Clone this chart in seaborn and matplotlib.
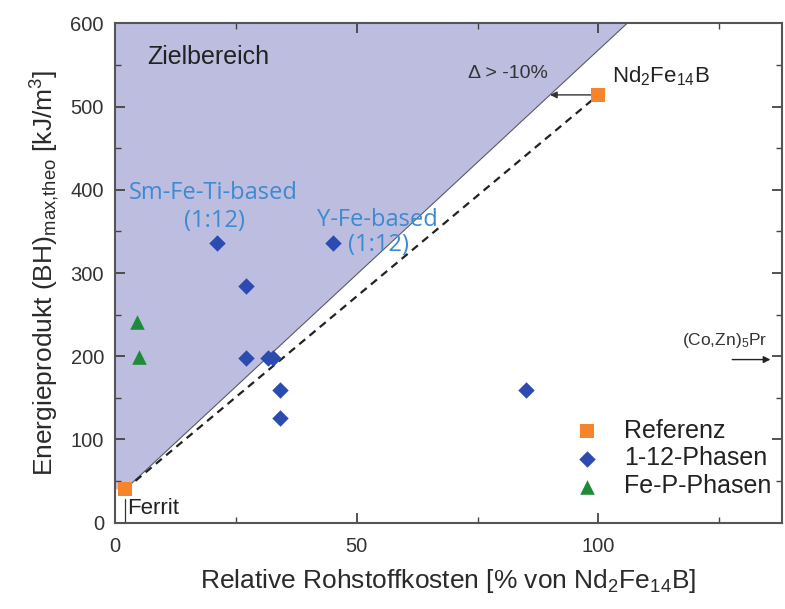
import numpy as np
import pandas as pd
import matplotlib
matplotlib.use("Agg")
import matplotlib.pyplot as plt
import seaborn as sns

# ---- data ----
ref_x = [2.1, 100]
ref_y = [40, 514]
phase112_x = [21, 45, 27, 27, 31.7, 32.7, 34.2, 34.2, 85]
phase112_y = [336, 336, 284, 198, 198, 198, 160, 126, 160]
fep_x = [4.5, 5.0]
fep_y = [241, 199]
groups = ["Referenz", "1-12-Phasen", "Fe-P-Phasen"]
target_end = (90, 514)   # -10 % of Nd2Fe14B cost

df = pd.DataFrame({
    "x": ref_x + phase112_x + fep_x,
    "y": ref_y + phase112_y + fep_y,
    "group": [groups[0]] * len(ref_x) + [groups[1]] * len(phase112_x) + [groups[2]] * len(fep_x),
})

sns.set_theme(style="ticks")
plt.rcParams["font.family"] = ["Liberation Sans", "DejaVu Sans"]
plt.rcParams["mathtext.fontset"] = "custom"
plt.rcParams["mathtext.rm"] = "Liberation Sans"
plt.rcParams["mathtext.it"] = "Liberation Sans:italic"

fig = plt.figure(figsize=(7.85, 6.09), dpi=100)
ax = fig.add_axes([0.1465, 0.1417, 0.8497, 0.820])

xmax, ymax = 138, 600
slope = (target_end[1] - ref_y[0]) / (target_end[0] - ref_x[0])
x_top = ref_x[0] + (ymax - ref_y[0]) / slope
ax.fill([0, ref_x[0], x_top, 0], [ref_y[0], ref_y[0], ymax, ymax],
        color="#bdbde0", zorder=0, lw=0)
ax.plot([ref_x[0], x_top], [ref_y[0], ymax], color="#5a5a6a", lw=0.8, zorder=1)
ax.plot(ref_x, ref_y, ls=(0, (3.5, 2.5)), color="#222222", lw=1.6, zorder=1)
ax.annotate("", xy=(target_end[0], target_end[1]), xytext=(ref_x[1] - 1, ref_y[1]),
            arrowprops=dict(arrowstyle="-|>", color="#333333", lw=1.0,
                            mutation_scale=10, shrinkA=0, shrinkB=0), zorder=2)
# small stem under Ferrit
ax.plot([ref_x[0], ref_x[0]], [0, 28], color="#333333", lw=0.9, zorder=1)

palette = {groups[0]: "#f5842a", groups[1]: "#2c4bb0", groups[2]: "#1e8b3a"}
markers = {groups[0]: "s", groups[1]: "D", groups[2]: "^"}
sizes = {groups[0]: 100, groups[1]: 70, groups[2]: 110}
for g in groups:
    sub = df[df.group == g]
    sns.scatterplot(data=sub, x="x", y="y", color=palette[g], marker=markers[g],
                    s=sizes[g], linewidth=0, ax=ax, label=g, zorder=3)

ax.set_xlim(0, xmax)
ax.set_ylim(0, ymax)
ax.set_xticks([0, 50, 100])
ax.set_xticks([25, 75, 125], minor=True)
ax.set_yticks(np.arange(0, 601, 100))
ax.set_yticks(np.arange(50, 600, 100), minor=True)
ax.tick_params(which="both", direction="in", top=True, right=True, color="#444444")
ax.tick_params(which="major", length=7, width=1.3, labelsize=14.5, labelcolor="#333333")
ax.tick_params(axis="x", which="major", pad=10)
ax.tick_params(axis="y", which="major", pad=8)
ax.tick_params(which="minor", length=4, width=1.0)
for sp in ax.spines.values():
    sp.set_color("#555555")
    sp.set_linewidth(1.5)

ax.set_xlabel(r"Relative Rohstoffkosten [% von Nd$_\mathregular{2}$Fe$_\mathregular{14}$B]",
              fontsize=19, color="#2a2a2a", labelpad=8)
ax.set_ylabel(r"Energieprodukt (BH)$_\mathregular{max{,}theo}$ [kJ/m$^\mathregular{3}$]",
              fontsize=19, color="#2a2a2a", labelpad=6)

# annotations
ax.text(6.6, 560, "Zielbereich", fontsize=18, color="#222222", va="center")
ax.text(73.1, 540, "Δ > -10%", fontsize=14, color="#333333", va="center")
ax.text(102.8, 536, r"Nd$_\mathregular{2}$Fe$_\mathregular{14}$B", fontsize=16,
        color="#222222", va="center")
ax.text(2.6, 16.5, "Ferrit", fontsize=16, color="#222222", va="center")
blue = "#3c8ad2"
bfont = ["Open Sans", "DejaVu Sans"]
ax.text(20.4, 396, "Sm-Fe-Ti-based", fontsize=17, color=blue, ha="center", va="center", family=bfont)
ax.text(20.6, 362, "(1:12)", fontsize=17, color=blue, ha="center", va="center", family=bfont)
ax.text(41.8, 364, "Y-Fe-based", fontsize=17, color=blue, ha="left", va="center", family=bfont)
ax.text(48.2, 334, "(1:12)", fontsize=17, color=blue, ha="left", va="center", family=bfont)
ax.text(117.3, 219.5, r"(Co,Zn)$_\mathregular{5}$Pr", fontsize=12.5, color="#333333", va="center")
ax.annotate("", xy=(135.6, 196), xytext=(127.7, 196),
            arrowprops=dict(arrowstyle="-|>", color="#222222", lw=1.0,
                            mutation_scale=10, shrinkA=0, shrinkB=0))

leg = ax.legend(loc="upper left", bbox_to_anchor=(0.719, 0.329), bbox_transform=fig.transFigure,
                frameon=False, fontsize=18, handletextpad=1.0, labelspacing=0.15,
                borderaxespad=0, borderpad=0.4, handlelength=1.0)
for t in leg.get_texts():
    t.set_color("#222222")

fig.savefig("out.png", dpi=100)
